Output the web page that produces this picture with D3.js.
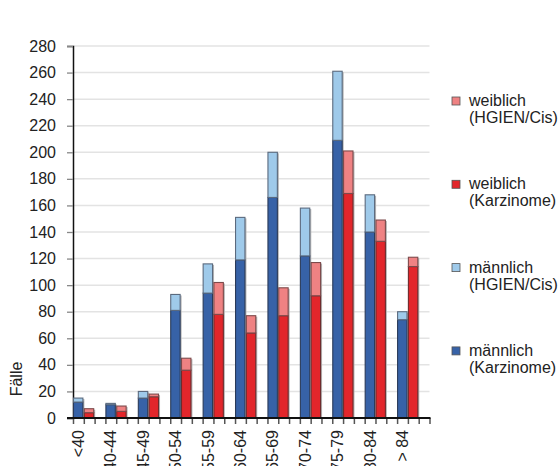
<!DOCTYPE html>
<html>
<head>
<meta charset="utf-8">
<script src="https://cdn.jsdelivr.net/npm/d3@7"></script>
<style>
  body { margin: 0; background: #fff; }
  text { font-family: "Liberation Sans", Arial, sans-serif; }
</style>
</head>
<body>
<div id="chart"></div>
<script>
// age groups
var groups = ['<40', '40-44', '45-49', '50-54', '55-59', '60-64', '65-69', '70-74', '75-79', '80-84', '> 84'];
// stacked values per group
var m_karz = [12, 10, 15, 81, 94, 119, 166, 122, 209, 140, 74];
var m_hgien = [3, 1, 5, 12, 22, 32, 34, 36, 52, 28, 6];
var w_karz = [4, 5, 16, 36, 78, 64, 77, 92, 169, 133, 114];
var w_hgien = [3, 4, 2, 9, 24, 13, 21, 25, 32, 16, 7];
var y_ticks = d3.range(0, 281, 20);

var legend_items = [
    { l1: 'weiblich', l2: '(HGIEN/Cis)', color: '#ef8283' },
    { l1: 'weiblich', l2: '(Karzinome)', color: '#e2262b' },
    { l1: 'männlich', l2: '(HGIEN/Cis)', color: '#9fcaea' },
    { l1: 'männlich', l2: '(Karzinome)', color: '#3762a7' }
]

const width = 559, height = 466
var margin = { top: 46, left: 73, right: 130, bottom: 48 }
const x0 = margin.left, x1 = 429.5, y0 = 418

var svg = d3.select('#chart').append('svg')
    .attr('width', width)
    .attr('height', height)

var x = d3.scaleBand().domain(groups).range([x0, x1]).padding(0)
var sub = d3.scaleBand().domain(['m', 'w', 'gap']).range([0, x.bandwidth()]).padding(0)
var slots = d3.scaleLinear().domain([0, groups.length * 3]).range([x0, x1])
var y = d3.scaleLinear().domain([0, 280]).range([y0, margin.top])

// grid
svg.append('g')
    .selectAll('line')
    .data(y_ticks.slice(1))
    .enter().append('line')
    .attr('x1', x0).attr('x2', x1)
    .attr('y1', function (d) { return y(d) }).attr('y2', function (d) { return y(d) })
    .attr('stroke', '#e3e3e3')
    .attr('stroke-width', 1.5)

// y axis
var yAxis = svg.append('g')
    .attr('transform', `translate(${x0},0)`)
    .call(d3.axisLeft(y).tickValues(y_ticks).tickSize(6).tickPadding(11))
yAxis.select('.domain').attr('stroke', '#111').attr('stroke-width', 1.5)
yAxis.selectAll('.tick line').attr('stroke', '#888').attr('stroke-width', 1.3)
yAxis.selectAll('.tick text')
    .style('font-family', '"Liberation Sans", Arial, sans-serif')
    .style('font-size', '16px')
    .attr('fill', '#222')

// bars
var bars = []
groups.forEach(function (g, i) {
    bars.push({ g: g, s: 'm', lo: 0, hi: m_karz[i], color: '#3762a7', stroke: '#2a3a58' })
    bars.push({ g: g, s: 'm', lo: m_karz[i], hi: m_karz[i] + m_hgien[i], color: '#9fcaea', stroke: '#5b6a7e' })
    bars.push({ g: g, s: 'w', lo: 0, hi: w_karz[i], color: '#e2262b', stroke: '#6e2a2c' })
    bars.push({ g: g, s: 'w', lo: w_karz[i], hi: w_karz[i] + w_hgien[i], color: '#ef8283', stroke: '#7d4a4b' })
})
var bw = sub.bandwidth() - 1.4

// shadow
svg.append('g')
    .selectAll('rect')
    .data(bars.filter(function (d) { return d.lo == 0 }))
    .enter().append('rect')
    .attr('x', function (d, i) { return x(d.g) + sub(d.s) + 2 })
    .attr('y', function (d, i) {
        var idx = groups.indexOf(d.g)
        var top = d.s == 'm' ? m_karz[idx] + m_hgien[idx] : w_karz[idx] + w_hgien[idx]
        return y(top) + 1
    })
    .attr('width', bw)
    .attr('height', function (d) {
        var idx = groups.indexOf(d.g)
        var top = d.s == 'm' ? m_karz[idx] + m_hgien[idx] : w_karz[idx] + w_hgien[idx]
        return y0 - y(top) - 1
    })
    .attr('fill', '#b5b5b5')

svg.append('g')
    .selectAll('rect')
    .data(bars)
    .enter().append('rect')
    .attr('x', function (d) { return x(d.g) + sub(d.s) + 0.5 })
    .attr('y', function (d) { return y(d.hi) })
    .attr('width', bw)
    .attr('height', function (d) { return y(d.lo) - y(d.hi) })
    .attr('fill', function (d) { return d.color })
    .attr('stroke', function (d) { return d.stroke })
    .attr('stroke-width', 1.1)

// x axis with slot ticks
var xAxis = svg.append('g')
    .attr('transform', `translate(0,${y0})`)
    .call(d3.axisBottom(slots).tickValues(d3.range(groups.length * 3 + 1)).tickSize(6).tickFormat(''))
xAxis.select('.domain').remove()
xAxis.selectAll('.tick line').attr('stroke', '#555').attr('stroke-width', 1.5)
svg.append('line')
    .attr('x1', x0 - 6).attr('x2', x1 + 1)
    .attr('y1', y0).attr('y2', y0)
    .attr('stroke', '#111')
    .attr('stroke-width', 2.2)

// x labels
svg.append('g')
    .selectAll('text')
    .data(groups)
    .enter().append('text')
    .attr('transform', function (d) {
        return `translate(${x(d) + sub('m') + sub.bandwidth() / 2},430)rotate(-90)`
    })
    .attr('dy', '0.35em')
    .attr('text-anchor', 'end')
    .style('font-size', '16px')
    .attr('fill', '#222')
    .text(function (d) { return d })

// y title
svg.append('text')
    .attr('transform', 'translate(16,379)rotate(-90)')
    .attr('dy', '0.35em')
    .attr('text-anchor', 'middle')
    .style('font-size', '16px')
    .attr('fill', '#222')
    .text('Fälle')

// legend
var leg = svg.append('g')
    .selectAll('g')
    .data(legend_items)
    .enter().append('g')
    .attr('transform', function (d, i) { return `translate(452,${97 + i * 83.3})` })
leg.append('rect')
    .attr('width', 8).attr('height', 8)
    .attr('fill', function (d) { return d.color })
    .attr('stroke', '#555')
    .attr('stroke-width', 0.8)
leg.append('text')
    .attr('x', 17).attr('y', 9)
    .style('font-size', '16px')
    .attr('fill', '#222')
    .text(function (d) { return d.l1 })
leg.append('text')
    .attr('x', 17).attr('y', 26)
    .style('font-size', '16px')
    .attr('fill', '#222')
    .text(function (d) { return d.l2 })
</script>
</body>
</html>
